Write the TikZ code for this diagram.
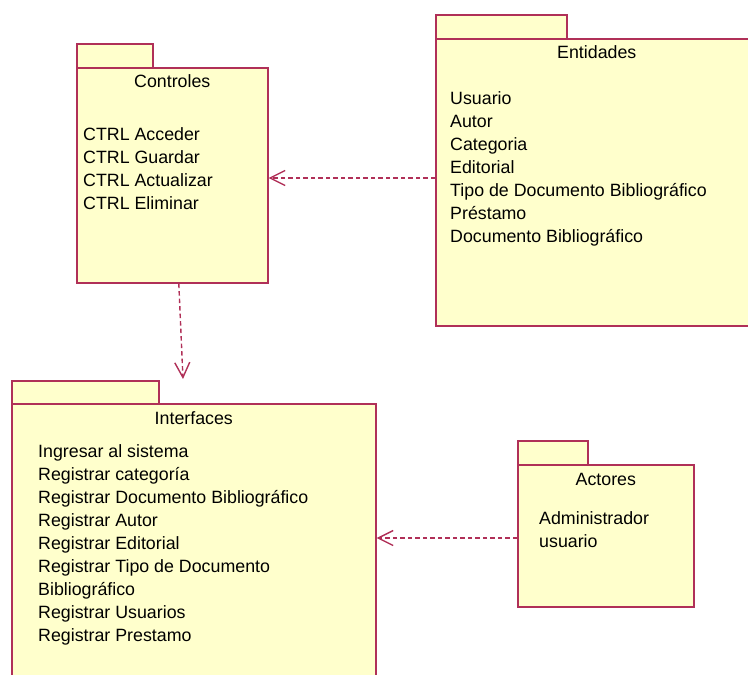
\documentclass[tikz,border=0pt]{standalone}
\usepackage{fontspec}
\setmainfont{Liberation Sans}
\usetikzlibrary{arrows.meta,positioning}
\definecolor{pkgfill}{RGB}{255,255,204}
\definecolor{pkgline}{RGB}{176,48,88}
\tikzset{
  pkgbody/.style={draw=pkgline, fill=pkgfill, line width=1.6bp, anchor=north west, inner sep=0pt},
  pkgtitle/.style={anchor=base, inner sep=0pt},
  pkgitems/.style={anchor=north west, align=left, inner sep=0pt},
  depend/.style={draw=pkgline, line width=1.4bp, dash pattern=on 4.5bp off 3bp,
    -{Straight Barb[length=15bp,width=15bp]}}
}
\begin{document}
\begin{tikzpicture}[x=1bp,y=-1bp,font=\fontsize{17.8bp}{23bp}\selectfont]
  \useasboundingbox (0,0) rectangle (748,675);
  % Controles
  \node[pkgbody, minimum width=76bp, minimum height=24bp] (ctrlTab) at (76,43) {};
  \node[pkgbody, minimum width=191bp, minimum height=215bp] (controles) at (76,67) {};
  \node[pkgtitle] (ctrlTitle) at ([yshift=-21bp]controles.north) {Controles};
  \node[pkgitems] (ctrlItems) at (83,127.5) {CTRL Acceder\\CTRL Guardar\\CTRL Actualizar\\CTRL Eliminar};
  % Entidades
  \node[pkgbody, minimum width=131bp, minimum height=24bp] (entTab) at (435,14) {};
  \node[pkgbody, minimum width=322bp, minimum height=287bp] (entidades) at (435,38) {};
  \node[pkgtitle] (entTitle) at ([yshift=-21bp]entidades.north) {Entidades};
  \node[pkgitems] (entItems) at (450,91.4) {Usuario\\Autor\\Categoria\\Editorial\\Tipo de Documento Bibliográfico\\Préstamo\\Documento Bibliográfico};
  % Interfaces
  \node[pkgbody, minimum width=147bp, minimum height=23bp] (intTab) at (11,380) {};
  \node[pkgbody, minimum width=364bp, minimum height=280bp] (interfaces) at (11,403) {};
  \node[pkgtitle] (intTitle) at ([yshift=-21bp]interfaces.north) {Interfaces};
  \node[pkgitems] (intItems) at (38,444.4) {Ingresar al sistema\\Registrar categoría\\Registrar Documento Bibliográfico\\Registrar Autor\\Registrar Editorial\\Registrar Tipo de Documento\\Bibliográfico\\Registrar Usuarios\\Registrar Prestamo};
  % Actores
  \node[pkgbody, minimum width=70bp, minimum height=24bp] (actTab) at (517,440) {};
  \node[pkgbody, minimum width=176bp, minimum height=142bp] (actores) at (517,464) {};
  \node[pkgtitle] (actTitle) at ([yshift=-21bp]actores.north) {Actores};
  \node[pkgitems] (actItems) at (539,511.4) {Administrador\\usuario};
  % dependencias
  \coordinate (entOut) at (435,178);
  \coordinate (intIn) at (183,379);
  \coordinate (actOut) at (517,538);
  \draw[depend] (entOut) -- (entOut -| controles.east);
  \draw[depend] ([xshift=6.5bp]controles.south) -- (intIn);
  \draw[depend] (actOut) -- (actOut -| interfaces.east);
\end{tikzpicture}
\end{document}
